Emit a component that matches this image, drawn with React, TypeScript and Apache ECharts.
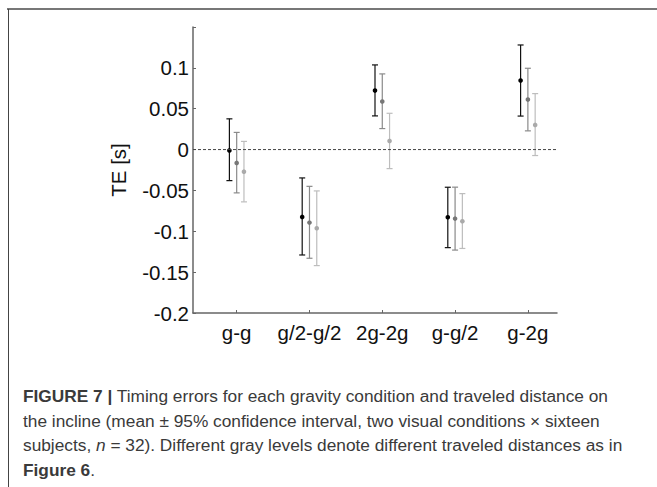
import React, { useEffect, useRef } from "react";
import * as echarts from "echarts";

// Conditions on the x axis
const categories = ["g-g", "g/2-g/2", "2g-2g", "g-g/2", "g-2g"];

// Timing error means and 95% CI bounds per traveled distance (s)
const shortMean = [-0.001, -0.0824, 0.0722, -0.0828, 0.0845];
const shortLow = [-0.038, -0.129, 0.0412, -0.12, 0.041];
const shortHigh = [0.0376, -0.0347, 0.1036, -0.0461, 0.128];

const midMean = [-0.0163, -0.0894, 0.0588, -0.0845, 0.0612];
const midLow = [-0.053, -0.133, 0.0257, -0.123, 0.0229];
const midHigh = [0.021, -0.045, 0.0926, -0.046, 0.0995];

const longMean = [-0.027, -0.0963, 0.0106, -0.0877, 0.0302];
const longLow = [-0.064, -0.142, -0.0233, -0.121, -0.0073];
const longHigh = [0.01, -0.0506, 0.0444, -0.0539, 0.0685];

const yTicks = [-0.2, -0.15, -0.1, -0.05, 0, 0.05, 0.1];

const FONT = "Liberation Sans, Arial, sans-serif";
const CAP_SIZE = 17.3;

function errorSeries(
  mean: number[],
  low: number[],
  high: number[],
  offset: number,
  barColor: string,
  dotColor: string
) {
  return {
    type: "custom",
    data: mean.map((m, i) => [i + 1 + offset, low[i], high[i], m]),
    encode: { x: 0, y: [1, 2, 3] },
    renderItem: (_params: any, api: any) => {
      const x = api.value(0);
      const lo = api.coord([x, api.value(1)]);
      const hi = api.coord([x, api.value(2)]);
      const c = api.coord([x, api.value(3)]);
      const cap = 3;
      const ls = { stroke: barColor, lineWidth: 1.2 };
      return {
        type: "group",
        children: [
          { type: "line", shape: { x1: lo[0], y1: lo[1], x2: hi[0], y2: hi[1] }, style: ls },
          { type: "line", shape: { x1: lo[0] - cap, y1: lo[1], x2: lo[0] + cap, y2: lo[1] }, style: ls },
          { type: "line", shape: { x1: hi[0] - cap, y1: hi[1], x2: hi[0] + cap, y2: hi[1] }, style: ls },
          { type: "circle", shape: { cx: c[0], cy: c[1], r: 2.3 }, style: { fill: dotColor } },
        ],
      };
    },
  };
}

const captionBase = { fontFamily: FONT, fontSize: CAP_SIZE, fill: "#3a3a3a" };
const captionRich = {
  b: { fontFamily: FONT, fontSize: CAP_SIZE, fontWeight: "bold", color: "#111" },
  i: { fontFamily: FONT, fontSize: CAP_SIZE, fontStyle: "italic", color: "#3a3a3a" },
};

export default function App() {
  const ref = useRef<HTMLDivElement>(null);

  useEffect(() => {
    if (!ref.current) return;
    const chart = echarts.init(ref.current, undefined, { renderer: "svg" });
    chart.setOption({
      animation: false,
      backgroundColor: "#fff",
      grid: { left: 193, top: 27, width: 364, height: 286 },
      xAxis: {
        type: "value",
        min: 0.4,
        max: 5.4,
        splitLine: { show: false },
        axisLine: { show: true, onZero: false, lineStyle: { color: "#666", width: 1.5 } },
        axisTick: {
          show: true,
          inside: true,
          length: 3,
          customValues: [1, 2, 3, 4, 5],
          lineStyle: { color: "#666" },
        },
        axisLabel: {
          customValues: [1, 2, 3, 4, 5],
          formatter: (v: number) => categories[Math.round(v) - 1] ?? "",
          fontFamily: FONT,
          fontSize: 20.5,
          color: "#111",
          margin: 9,
        },
      },
      yAxis: {
        type: "value",
        min: -0.2,
        max: 0.15,
        interval: 0.05,
        name: "TE [s]",
        nameLocation: "middle",
        nameGap: 64,
        nameTextStyle: { fontFamily: FONT, fontSize: 20.5, color: "#111" },
        splitLine: { show: false },
        axisLine: { show: true, lineStyle: { color: "#666", width: 1.5 } },
        axisTick: { show: true, inside: true, length: 3, lineStyle: { color: "#666" } },
        axisLabel: {
          fontFamily: FONT,
          fontSize: 20.5,
          color: "#111",
          margin: 4,
          formatter: (v: number) => {
            const t = yTicks.find((k) => Math.abs(k - v) < 1e-9);
            return t === undefined ? "" : String(t);
          },
        },
      },
      series: [
        {
          type: "line",
          data: [
            [0.4, 0],
            [5.4, 0],
          ],
          symbol: "none",
          silent: true,
          lineStyle: { color: "#444", width: 1, type: [3, 2] },
        },
        errorSeries(shortMean, shortLow, shortHigh, -0.1, "#111", "#000"),
        errorSeries(midMean, midLow, midHigh, 0, "#8a8a8a", "#777"),
        errorSeries(longMean, longLow, longHigh, 0.1, "#bdbdbd", "#aaa"),
      ],
      graphic: [
        { type: "line", shape: { x1: 7, y1: 9, x2: 657, y2: 9 }, style: { stroke: "#777", lineWidth: 2 } },
        { type: "line", shape: { x1: 8.5, y1: 9, x2: 8.5, y2: 487 }, style: { stroke: "#444", lineWidth: 1 } },
        {
          type: "text",
          x: 23,
          y: 396,
          style: {
            ...captionBase,
            verticalAlign: "middle",
            text: "{b|FIGURE 7 |} Timing errors for each gravity condition and traveled distance on",
            rich: captionRich,
          },
        },
        {
          type: "text",
          x: 23,
          y: 421,
          style: {
            ...captionBase,
            verticalAlign: "middle",
            text: "the incline (mean ± 95% confidence interval, two visual conditions × sixteen",
          },
        },
        {
          type: "text",
          x: 23,
          y: 445,
          style: {
            ...captionBase,
            verticalAlign: "middle",
            text: "subjects, {i|n} = 32). Different gray levels denote different traveled distances as in",
            rich: captionRich,
          },
        },
        {
          type: "text",
          x: 23,
          y: 470,
          style: {
            ...captionBase,
            verticalAlign: "middle",
            text: "{b|Figure 6}.",
            rich: captionRich,
          },
        },
      ],
    });
    return () => chart.dispose();
  }, []);

  return (
    <div
      ref={ref}
      style={{ position: "fixed", left: 0, top: 0, width: 657, height: 487 }}
    />
  );
}
